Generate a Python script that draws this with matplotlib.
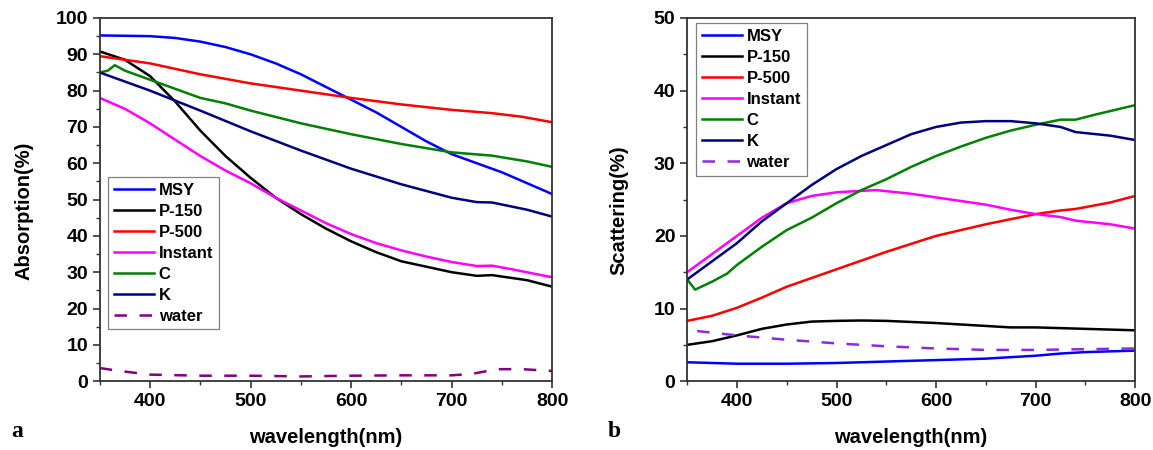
import numpy as np
import matplotlib
matplotlib.use('Agg')
from matplotlib import pyplot
from matplotlib.ticker import MultipleLocator

pyplot.rcParams.update({'font.family': 'Liberation Sans', 'font.weight': 'bold',
                        'axes.linewidth': 1.3, 'axes.edgecolor': '#333333',
                        'xtick.color': '#333333', 'ytick.color': '#333333',
                        'xtick.labelcolor': 'black', 'ytick.labelcolor': 'black',
                        'lines.linewidth': 1.8})

# (a) absorption (%)
wl_msy_a   = [350, 400, 425, 450, 475, 500, 525, 550, 575, 600, 625, 650, 675, 700, 725, 750, 775, 800]
msy_a      = [95.2, 95.0, 94.5, 93.5, 92.0, 90.0, 87.5, 84.5, 81.0, 77.5, 74.0, 70.0, 66.0, 62.5, 60.0, 57.5, 54.5, 51.5]
wl_p150_a  = [350, 375, 400, 425, 450, 475, 500, 525, 550, 575, 600, 625, 650, 675, 700, 725, 740, 775, 800]
p150_a     = [90.8, 88.5, 84.0, 77.0, 69.0, 62.0, 56.0, 50.5, 46.0, 42.0, 38.5, 35.5, 33.0, 31.5, 30.0, 29.0, 29.2, 27.8, 26.0]
wl_p500_a  = [350, 400, 450, 500, 550, 600, 650, 700, 740, 770, 800]
p500_a     = [89.5, 87.5, 84.5, 82.0, 80.0, 78.0, 76.2, 74.7, 73.8, 72.8, 71.3]
wl_inst_a  = [350, 375, 400, 425, 450, 475, 500, 525, 550, 575, 600, 625, 650, 675, 700, 725, 740, 760, 800]
inst_a     = [78.0, 75.0, 71.0, 66.5, 62.0, 58.0, 54.5, 50.5, 47.0, 43.5, 40.5, 38.0, 36.0, 34.3, 32.8, 31.7, 31.8, 30.8, 28.6]
wl_c_a     = [350, 358, 365, 375, 400, 425, 450, 475, 500, 550, 600, 650, 700, 740, 775, 800]
c_a        = [85.0, 85.5, 87.0, 85.5, 83.0, 80.5, 78.0, 76.5, 74.5, 71.0, 68.0, 65.3, 63.0, 62.1, 60.5, 59.0]
wl_k_a     = [350, 400, 450, 500, 550, 600, 650, 700, 725, 740, 775, 800]
k_a        = [85.0, 80.0, 74.5, 68.8, 63.5, 58.5, 54.2, 50.5, 49.3, 49.2, 47.2, 45.3]
wl_water_a = [350, 370, 400, 450, 500, 550, 600, 650, 700, 720, 745, 770, 800]
water_a    = [3.6, 2.8, 1.8, 1.5, 1.5, 1.3, 1.5, 1.6, 1.6, 2.0, 3.3, 3.3, 2.8]

# (b) scattering (%)
wl_msy_b   = [350, 400, 450, 500, 550, 600, 650, 700, 725, 750, 800]
msy_b      = [2.6, 2.4, 2.4, 2.5, 2.7, 2.9, 3.1, 3.5, 3.8, 4.0, 4.2]
wl_p150_b  = [350, 375, 400, 425, 450, 475, 500, 525, 550, 600, 650, 675, 700, 750, 800]
p150_b     = [5.0, 5.5, 6.3, 7.2, 7.8, 8.2, 8.3, 8.35, 8.3, 8.0, 7.6, 7.4, 7.4, 7.2, 7.0]
wl_p500_b  = [350, 375, 400, 425, 450, 475, 500, 525, 550, 575, 600, 625, 650, 675, 700, 725, 740, 775, 800]
p500_b     = [8.3, 9.0, 10.1, 11.5, 13.0, 14.2, 15.4, 16.6, 17.8, 18.9, 20.0, 20.8, 21.6, 22.3, 23.0, 23.5, 23.7, 24.6, 25.5]
wl_inst_b  = [350, 375, 400, 425, 450, 475, 500, 525, 540, 575, 600, 625, 650, 675, 700, 725, 740, 775, 800]
inst_b     = [15.0, 17.5, 20.0, 22.5, 24.5, 25.5, 26.0, 26.2, 26.3, 25.8, 25.3, 24.8, 24.3, 23.6, 23.0, 22.6, 22.1, 21.6, 21.0]
wl_c_b     = [350, 358, 375, 390, 400, 425, 450, 475, 500, 525, 550, 575, 600, 625, 650, 675, 700, 725, 740, 760, 800]
c_b        = [14.0, 12.6, 13.7, 14.8, 16.0, 18.5, 20.8, 22.5, 24.5, 26.3, 27.8, 29.5, 31.0, 32.3, 33.5, 34.5, 35.3, 36.0, 36.0, 36.7, 38.0]
wl_k_b     = [350, 375, 400, 425, 450, 475, 500, 525, 550, 575, 600, 625, 650, 675, 700, 725, 740, 775, 800]
k_b        = [14.0, 16.5, 19.0, 22.0, 24.5, 27.0, 29.2, 31.0, 32.5, 34.0, 35.0, 35.6, 35.8, 35.8, 35.5, 35.0, 34.3, 33.8, 33.2]
wl_water_b = [360, 400, 450, 500, 550, 600, 650, 700, 750, 800]
water_b    = [6.9, 6.3, 5.7, 5.2, 4.8, 4.5, 4.3, 4.3, 4.4, 4.5]

labels = ['MSY', 'P-150', 'P-500', 'Instant', 'C', 'K', 'water']
colors = ['#0000ff', '#000000', '#ff0000', '#ff00ff', '#008000', '#000080']


def draw(ax, series, water_color, ylabel, ymax, legend_anchor, ypad):
    for (x, y), color, label in zip(series[:-1], colors, labels[:-1]):
        ax.plot(x, y, color=color, label=label)
    xw, yw = series[-1]
    ax.plot(xw, yw, color=water_color, ls=(0, (5, 5)), label=labels[-1])
    ax.set_xlim(350, 800)
    ax.set_ylim(0, ymax)
    ax.xaxis.set_major_locator(MultipleLocator(100))
    ax.xaxis.set_minor_locator(MultipleLocator(50))
    ax.yaxis.set_major_locator(MultipleLocator(10))
    ax.yaxis.set_minor_locator(MultipleLocator(5))
    ax.tick_params(which='both', top=False, right=False, labelsize=14)
    ax.tick_params(which='major', length=5, width=1.2)
    ax.tick_params(which='minor', length=3, width=1.0)
    ax.set_xlabel('wavelength(nm)', size=14.5, weight='bold', labelpad=13)
    ax.set_ylabel(ylabel, size=14.5, weight='bold', labelpad=ypad)
    ax.yaxis.label.set_y(0.47)
    leg = ax.legend(loc='upper left', bbox_to_anchor=legend_anchor, fancybox=False,
                    edgecolor='#808080', framealpha=1, handlelength=2.4,
                    handletextpad=0.3, labelspacing=0.36, borderpad=0.35,
                    borderaxespad=0.0, prop={'weight': 'bold', 'size': 12})
    leg.get_frame().set_linewidth(0.9)


pyplot.close('all')
fig = pyplot.figure(figsize=(11.53, 4.5), dpi=100)
ax0 = fig.add_axes([0.0865, 0.153, 0.3925, 0.807])
ax1 = fig.add_axes([0.596, 0.153, 0.3885, 0.807])

draw(ax0, [(wl_msy_a, msy_a), (wl_p150_a, p150_a), (wl_p500_a, p500_a), (wl_inst_a, inst_a),
           (wl_c_a, c_a), (wl_k_a, k_a), (wl_water_a, water_a)],
     '#800080', 'Absorption(%)', 100, (0.018, 0.563), 16)
draw(ax1, [(wl_msy_b, msy_b), (wl_p150_b, p150_b), (wl_p500_b, p500_b), (wl_inst_b, inst_b),
           (wl_c_b, c_b), (wl_k_b, k_b), (wl_water_b, water_b)],
     '#8a2be2', 'Scattering(%)', 50, (0.019, 0.986), 18)

fig.text(0.010, 0.028, 'a', family='Liberation Serif', weight='bold', size=17)
fig.text(0.527, 0.028, 'b', family='Liberation Serif', weight='bold', size=17)

pyplot.savefig('out.png', dpi=100)
